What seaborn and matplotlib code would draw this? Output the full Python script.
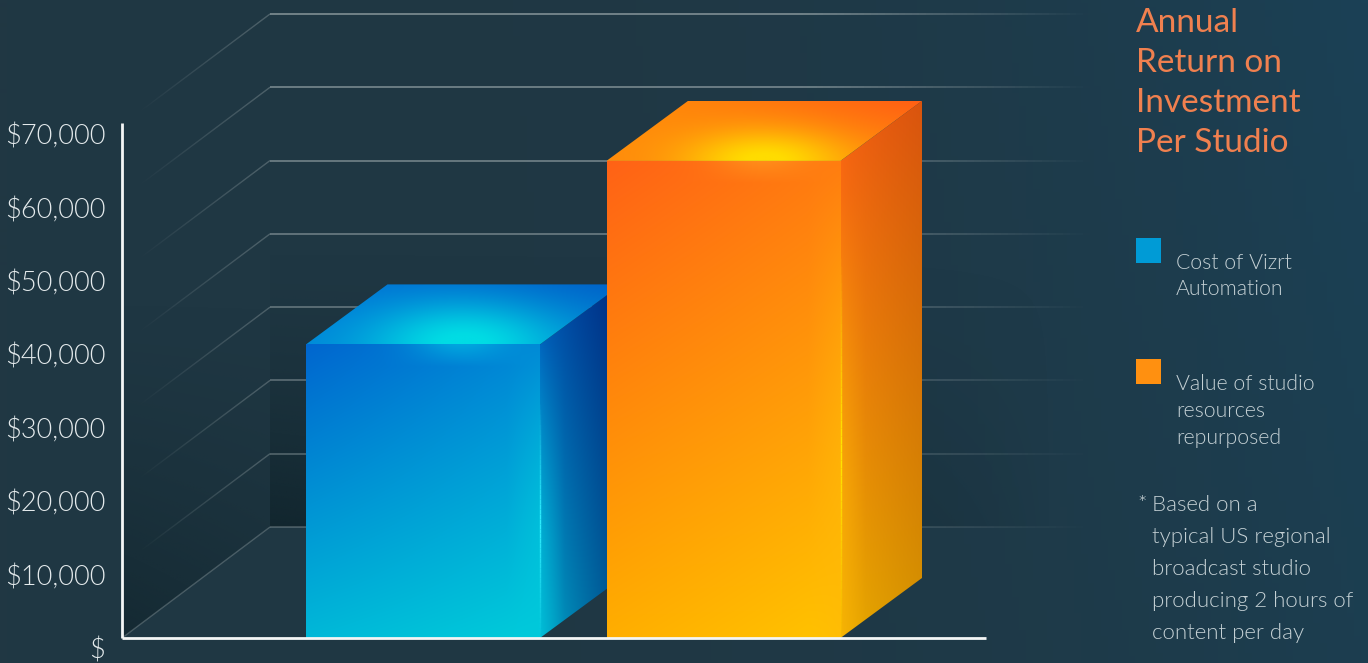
import numpy as np
import pandas as pd
import matplotlib
matplotlib.use("Agg")
import matplotlib.pyplot as plt
from matplotlib.colors import to_rgb
from matplotlib.collections import LineCollection
from matplotlib.patches import Polygon, Rectangle
from matplotlib.transforms import ScaledTranslation
import seaborn as sns

categories = ["Cost of Vizrt\nAutomation", "Value of studio\nresources\nrepurposed"]
values = [40000, 65000]
bar_colors = ["#009bd6", "#ff9010"]
tick_values = [0, 10000, 20000, 30000, 40000, 50000, 60000, 70000]
tick_labels = ["$", "$10,000", "$20,000", "$30,000", "$40,000", "$50,000", "$60,000", "$70,000"]
title_lines = ["Annual", "Return on", "Investment", "Per Studio"]
note_lines = ["Based on a", "typical US regional", "broadcast studio", "producing 2 hours of", "content per day"]

W, H = 1368, 663
PX_X = 300.5            # pixels per category step
PX_Y = 73.4 / 10000     # pixels per dollar
BACK_SCALE = 73.29 / 73.4
DEPTH_X, DEPTH_Y = 81.5 / PX_X, 60 / PX_Y
WALL_X, WALL_Y = 148 / PX_X, 111 / PX_Y

sns.set_theme(style="white")
plt.rcParams["font.family"] = ["Lato", "DejaVu Sans"]
LIGHT = dict(family=["Lato", "DejaVu Sans"], fontweight=300)

fig = plt.figure(figsize=(W / 100, H / 100), dpi=100, facecolor="#1f3743")


def bilinear(tl, tr, bl, br, n=200, pu=1.0, pv=1.0):
    u, v = np.meshgrid(np.linspace(0, 1, n) ** pu, np.linspace(0, 1, n) ** pv)
    tl, tr, bl, br = [np.array(to_rgb(c)) for c in (tl, tr, bl, br)]
    return ((1 - u)[..., None] * ((1 - v)[..., None] * tl + v[..., None] * bl)
            + u[..., None] * ((1 - v)[..., None] * tr + v[..., None] * br))


def mix(arr, color, w):
    return arr * (1 - w[..., None]) + np.array(to_rgb(color)) * w[..., None]


# figure background
bg_ax = fig.add_axes([0, 0, 1, 1], zorder=-1)
bg_ax.imshow(bilinear("#203743", "#1b4156", "#203743", "#1c3e50", pu=3.0), aspect="auto")
bg_ax.axis("off")

ax = fig.add_axes([122 / W, 1 - 638 / H, 864 / W, 515 / H], zorder=1)
ax.set_facecolor("none")
frame = pd.DataFrame({"category": categories, "value": values})
sns.barplot(data=frame, x="category", y="value", hue="category", palette=bar_colors,
            width=234 / PX_X, saturation=1, legend=False, ax=ax, zorder=4, linewidth=0)
xmin, xmax = (122 - 423) / PX_X, (986 - 423) / PX_X
ymax = 515 / PX_Y


def paint(arr, poly, box, z):
    im = ax.imshow(arr, extent=box, origin="upper", aspect="auto", interpolation="bilinear", zorder=z)
    clip = Polygon(poly, closed=True, transform=ax.transData)
    im.set_clip_path(clip)
    im.set_clip_box(fig.bbox)
    return im


# dark back wall and side wall
bx0, bx1 = xmin + WALL_X, xmin + 968 / PX_X
n = 300
wall_top = WALL_Y + 513 / PX_Y
u, v = np.meshgrid(np.linspace(0, 1, n), np.linspace(0, 1, n))
wall = np.zeros((n, n, 4))
wall[..., :3] = to_rgb("#0a1c22")
wall[..., 3] = 0.62 * np.clip((v - 0.45) / 0.55, 0, 1) ** 1.5 * np.clip(1 - u * 1.05, 0, 1) ** 0.7
paint(wall, [(bx0, WALL_Y), (bx1, WALL_Y), (bx1, wall_top), (bx0, wall_top)],
      [bx0, bx1, WALL_Y, wall_top], 0.5)
side = np.zeros((n, n, 4))
side[..., :3] = to_rgb("#0a1c22")
side[..., 3] = 0.5 * np.clip((v - 0.45) / 0.55, 0, 1) ** 1.4 * (1 - 0.35 * u)
paint(side, [(xmin, 0), (bx0, WALL_Y), (bx0, wall_top), (xmin, 513 / PX_Y)],
      [xmin, bx0, 0, wall_top], 0.5)

# receding grid lines and the back wall lines
grid_rgb = to_rgb("#a8b4b6")


def fade_line(store, x0, y0, x1, y1, alpha_fn, m=120):
    t = np.linspace(0, 1, m + 1)
    xs, ys = x0 + (x1 - x0) * t, y0 + (y1 - y0) * t
    segs, cols = store
    for i in range(m):
        segs.append([(xs[i], ys[i]), (xs[i + 1], ys[i + 1])])
        cols.append((*grid_rgb, float(alpha_fn((t[i] + t[i + 1]) / 2))))


flat, diag = ([], []), ([], [])
for level in tick_values:
    back = level * BACK_SCALE + WALL_Y
    boost = 0.34 + 0.3 * level / 70000
    fade_line(flat, bx0, back, bx1, back,
              lambda t, b=boost: b * np.interp(t, [0, 0.65, 0.88, 1], [1, 1, 0.35, 0]))
    if level == 0:
        fade_line(diag, bx0, back, xmin, 0, lambda t: 0.34)
    else:
        fade_line(diag, bx0, back, xmin + 18 / PX_X, back - WALL_Y * 130 / 148,
                  lambda t: 0.36 * (1 - t) ** 0.9)
ax.add_collection(LineCollection(flat[0], colors=flat[1], linewidths=1.3, zorder=1, clip_on=False))
ax.add_collection(LineCollection(diag[0], colors=diag[1], linewidths=1.0, zorder=1, clip_on=False))

# shaded 3-D bars, built from the bars seaborn drew
styles = [
    dict(front=("#0066cf", "#0088d6", "#00b8d8", "#00ccda"), edge="#30f0ff", glow_front="#00c8e8",
         side=("#0058bc", "#002c80", "#00b8d4", "#00508f"), shine="#00c8dc",
         top=("#0078d8", "#0062c8", "#0086d8", "#0086d4"), glow="#00dce4", su=0.36, sv=0.8),
    dict(front=("#ff6216", "#ff7c10", "#ffae00", "#ffc400"), edge="#ffe800", glow_front="#ffa020",
         side=("#fa5f14", "#d9540e", "#efb000", "#d49400"), shine="#ffb808",
         top=("#ff9008", "#ff5f14", "#ff8a0c", "#ff8a0c"), glow="#ffdc00", su=0.3, sv=0.6),
]
for i, (bar, st) in enumerate(zip(ax.patches, styles)):
    xl, w, val = bar.get_x(), bar.get_width(), bar.get_height()
    xr = xl + w
    z = 3 + 3 * i
    bar.set_zorder(z)
    bar.set_edgecolor("none")

    fr = bilinear(*st["front"])
    uu, vv = np.meshgrid(np.linspace(0, 1, 200), np.linspace(0, 1, 200))
    fr = mix(fr, st["shine"], 0.55 * np.clip((uu - 0.86) / 0.14, 0, 1) * np.clip(vv * 1.6, 0, 1))
    glow_h = 22 / (val * PX_Y)
    fr = mix(fr, st["glow_front"], 0.55 * np.exp(-((uu - 0.66) / 0.2) ** 2) * np.clip(1 - vv / glow_h, 0, 1))
    paint(fr, [(xl, 0), (xr, 0), (xr, val), (xl, val)], [xl, xr, 0, val], z + 0.1)

    sd = bilinear(*st["side"], pu=0.75)
    sd = mix(sd, st["shine"], 0.45 * np.clip(1 - uu / 0.3, 0, 1) * np.clip(vv * 1.8 - 0.3, 0, 1))
    paint(sd, [(xr, 0), (xr + DEPTH_X, DEPTH_Y), (xr + DEPTH_X, val + DEPTH_Y), (xr, val)],
          [xr, xr + DEPTH_X, 0, val + DEPTH_Y], z + 0.1)

    tp = bilinear(*st["top"])
    radial = np.exp(-((uu - 0.5) / st["su"]) ** 2 - ((vv - 1.0) / st["sv"]) ** 2)
    tp = mix(tp, st["glow"], np.clip(radial ** 1.4 * 1.05, 0, 1))
    paint(tp, [(xl, val), (xr, val), (xr + DEPTH_X, val + DEPTH_Y), (xl + DEPTH_X, val + DEPTH_Y)],
          [xl, xr + DEPTH_X, val, val + DEPTH_Y], z + 0.1)

    t = np.linspace(0, 1, 60)
    ys = val * t
    edge_segs = [[(xr, ys[k]), (xr, ys[k + 1])] for k in range(59)]
    edge_rgb = to_rgb(st["edge"])
    edge_cols = [(*edge_rgb, float(np.clip(1.0 - abs(t[k] - 0.38) / 0.42, 0, 0.95))) for k in range(59)]
    ax.add_collection(LineCollection(edge_segs, colors=edge_cols, linewidths=1.0, zorder=z + 0.2))

ax.set_xlim(xmin, xmax)
ax.set_ylim(0, ymax)
ax.set_xlabel("")
ax.set_ylabel("")
ax.set_xticks([])
ax.set_yticks(tick_values)
ax.set_yticklabels(tick_labels, color="#e4eaec", fontsize=19.5, **LIGHT)
ax.tick_params(axis="y", length=0, pad=12)
for lab in ax.get_yticklabels():
    lab.set_transform(lab.get_transform() + ScaledTranslation(0, -10 / 100, fig.dpi_scale_trans))
sns.despine(ax=ax)
for name in ("left", "bottom"):
    ax.spines[name].set_color("#f4f6f6")
    ax.spines[name].set_linewidth(2.0)
    ax.spines[name].set_zorder(20)
    ax.spines[name].set_capstyle("butt")


def put(x, y, s, **kw):
    fig.text(x / W, 1 - y / H, s, va="baseline", ha="left", **kw)


for line, y in zip(title_lines, [32, 72, 112, 152]):
    put(1136, y, line, color="#f0804f", fontsize=24, family=["Lato", "DejaVu Sans"])

legend_baselines = [[269, 295], [390, 417, 444]]
swatch_tops = [238, 359]
for cat, col, top, bases in zip(categories, bar_colors, swatch_tops, legend_baselines):
    fig.add_artist(Rectangle((1136 / W, 1 - (top + 25) / H), 25 / W, 25 / H, color=col,
                             transform=fig.transFigure, linewidth=0))
    for line, y in zip(cat.split("\n"), bases):
        put(1176, y, line, color="#c5d1d5", fontsize=15.3, **LIGHT)

put(1137, 511, "*", color="#d5dee0", fontsize=16, **LIGHT)
for line, y in zip(note_lines, [511, 543, 575, 607, 639]):
    put(1152, y, line, color="#c5d1d5", fontsize=16, **LIGHT)

fig.savefig("out.png", dpi=100, facecolor=fig.get_facecolor())
